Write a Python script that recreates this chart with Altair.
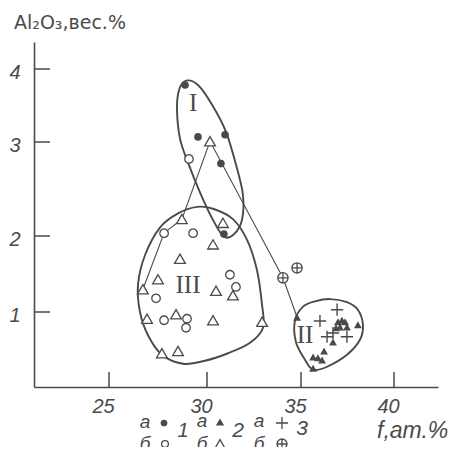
import altair as alt
import pandas as pd

# ---------------- data ----------------
# group 1: a = filled circles, b = open circles
g1a_x = [28.88, 29.54, 30.96, 30.74, 30.90]
g1a_y = [3.78, 3.07, 3.10, 2.77, 2.02]
g1b_x = [29.08, 27.81, 29.29, 27.40, 31.22, 31.54, 27.81, 28.98, 28.93]
g1b_y = [2.82, 2.03, 2.03, 1.18, 1.49, 1.33, 0.89, 0.91, 0.79]
# group 2: a = filled triangles, b = open triangles
g2a_x = [34.79, 36.99, 37.20, 37.37, 37.10, 37.47, 36.88, 38.06, 36.72,
         35.65, 35.91, 36.24, 36.13, 35.65]
g2a_y = [0.93, 0.87, 0.89, 0.87, 0.80, 0.80, 0.79, 0.83, 0.60,
         0.40, 0.39, 0.48, 0.36, 0.25]
g2b_x = [30.16, 28.72, 30.85, 30.32, 28.62, 27.50, 26.73, 30.48, 31.38,
         26.94, 28.42, 30.32, 32.93, 27.70, 28.52]
g2b_y = [3.01, 2.18, 2.14, 1.89, 1.70, 1.43, 1.30, 1.28, 1.22,
         0.91, 0.97, 0.89, 0.87, 0.45, 0.48]
# group 3: a = plus, b = crossed circle
g3a_x = [36.94, 36.02, 36.40, 36.72, 37.47]
g3a_y = [1.03, 0.88, 0.67, 0.72, 0.67]
g3b_x = [34.04, 34.79]
g3b_y = [1.45, 1.58]

# connecting line
trend_x = [26.73, 27.81, 28.72, 30.16, 34.04, 34.79]
trend_y = [1.30, 2.03, 2.18, 3.01, 1.45, 0.93]

# field outlines I, II, III
out1_x = [28.93, 29.54, 30.27, 31.01, 31.54, 31.91, 31.86, 31.44, 30.90,
          30.32, 29.69, 29.03, 28.62, 28.47, 28.57]
out1_y = [3.84, 3.78, 3.51, 3.14, 2.76, 2.44, 2.17, 2.02, 1.99,
          2.17, 2.44, 2.78, 3.05, 3.44, 3.71]
out2_x = [36.56, 37.47, 38.06, 38.33, 38.17, 37.47, 36.40, 35.65, 35.22,
          34.73, 34.68, 35.11, 35.75]
out2_y = [1.17, 1.13, 1.03, 0.83, 0.63, 0.43, 0.27, 0.23, 0.36,
          0.60, 0.89, 1.07, 1.14]
out3_x = [29.49, 30.32, 31.38, 32.13, 32.66, 32.93, 32.98, 32.29, 31.12,
          29.90, 28.78, 27.70, 26.99, 26.58, 26.48, 26.84, 27.60, 28.52]
out3_y = [2.31, 2.29, 2.18, 1.95, 1.55, 1.09, 0.79, 0.59, 0.45,
          0.35, 0.31, 0.43, 0.69, 1.00, 1.36, 1.75, 2.09, 2.24]

field_names = ["I", "II", "III"]
field_x = [29.29, 35.22, 29.03]
field_y = [3.53, 0.69, 1.36]

x_ticks = [25, 30, 35, 40]
y_ticks = [1, 2, 3, 4]

# ---------------- styling ----------------
ink = "#4a4a4a"
sans = "Liberation Sans"

xs = alt.Scale(type="linear", domain=[21.17, 25, 30, 35, 40, 42.37],
               range=[0, 75, 173, 267, 360, 404], nice=False, zero=False)
ys = alt.Scale(type="linear", domain=[0, 1, 2, 3, 4, 4.37],
               range=[345, 270, 194, 100, 27, 0], nice=False, zero=False)

xaxis = alt.Axis(values=x_ticks, title=None, ticks=False, grid=False,
                 domainColor=ink, domainWidth=1.6, labelFont=sans,
                 labelFontSize=20, labelFontStyle="italic", labelColor=ink,
                 labelPadding=9, labelOffset=-6, format="d")
yaxis = alt.Axis(values=y_ticks, title=None, ticks=False, grid=False,
                 domainColor=ink, domainWidth=1.6, labelFont=sans,
                 labelFontSize=20, labelFontStyle="italic", labelColor=ink,
                 labelPadding=14, labelOffset=3, format="d")


def X(f):
    return alt.X(f, type="quantitative", scale=xs, axis=xaxis)


def Y(f):
    return alt.Y(f, type="quantitative", scale=ys, axis=yaxis)


def pts(xv, yv):
    return pd.DataFrame({"x": xv, "y": yv})


def path(xv, yv):
    return pd.DataFrame({"x": xv, "y": yv, "o": list(range(len(xv)))})


PLUS = "M-1,0L1,0M0,-1L0,1"
OPLUS = "M-1,0A1,1,0,1,1,1,0A1,1,0,1,1,-1,0ZM-1,0L1,0M0,-1L0,1"

layers = []

# outlines
for ox, oy in [(out1_x, out1_y), (out2_x, out2_y), (out3_x, out3_y)]:
    layers.append(
        alt.Chart(path(ox, oy)).mark_line(interpolate="cardinal-closed",
                                          color=ink, strokeWidth=1.9)
        .encode(x=X("x"), y=Y("y"), order="o:Q"))

# trend line
layers.append(alt.Chart(path(trend_x, trend_y))
              .mark_line(color=ink, strokeWidth=1.1)
              .encode(x=X("x"), y=Y("y"), order="o:Q"))

# ticks (inward)
layers.append(alt.Chart(pd.DataFrame({"v": y_ticks}))
              .mark_rule(color=ink, strokeWidth=1.5)
              .encode(y=Y("v"), x=alt.value(0), x2=alt.value(16)))
layers.append(alt.Chart(pd.DataFrame({"v": x_ticks}))
              .mark_rule(color=ink, strokeWidth=1.5)
              .encode(x=X("v"), y=alt.value(345), y2=alt.value(330)))

# points
layers.append(alt.Chart(pts(g2b_x, g2b_y))
              .mark_point(shape="triangle-up", filled=True, fill="white",
                          stroke=ink, strokeWidth=1.3, size=115, opacity=1)
              .encode(x=X("x"), y=Y("y")))
layers.append(alt.Chart(pts(g1b_x, g1b_y))
              .mark_point(shape="circle", filled=True, fill="white",
                          stroke=ink, strokeWidth=1.3, size=72, opacity=1)
              .encode(x=X("x"), y=Y("y")))
layers.append(alt.Chart(pts(g1a_x, g1a_y))
              .mark_point(shape="circle", filled=True, color=ink,
                          size=58, opacity=1)
              .encode(x=X("x"), y=Y("y")))
layers.append(alt.Chart(pts(g2a_x, g2a_y))
              .mark_point(shape="triangle-up", filled=True, color=ink,
                          size=62, opacity=1)
              .encode(x=X("x"), y=Y("y")))
layers.append(alt.Chart(pts(g3a_x, g3a_y))
              .mark_point(shape=PLUS, filled=False, stroke=ink,
                          strokeWidth=1.4, size=150, opacity=1)
              .encode(x=X("x"), y=Y("y")))
layers.append(alt.Chart(pts(g3b_x, g3b_y))
              .mark_point(shape=OPLUS, filled=True, fill="white",
                          stroke=ink, strokeWidth=1.3, size=105, opacity=1)
              .encode(x=X("x"), y=Y("y")))

# field labels
layers.append(alt.Chart(pd.DataFrame({"x": field_x, "y": field_y,
                                      "t": field_names}))
              .mark_text(font="Liberation Serif", fontSize=25, color=ink,
                         align="center", baseline="middle")
              .encode(x=X("x"), y=Y("y"), text="t:N"))

one = pd.DataFrame({"a": [0]})


def txt(s, px, py, size=18, style="italic", align="center",
        baseline="middle", font=sans):
    return (alt.Chart(one)
            .mark_text(text=s, font=font, fontSize=size, fontStyle=style,
                       color=ink, align=align, baseline=baseline)
            .encode(x=alt.value(px), y=alt.value(py)))


def sym(shape, px, py, size, filled):
    if filled:
        m = alt.Chart(one).mark_point(shape=shape, filled=True, color=ink,
                                      size=size, opacity=1)
    else:
        m = alt.Chart(one).mark_point(shape=shape, filled=False, stroke=ink,
                                      strokeWidth=1.3, size=size, opacity=1)
    return m.encode(x=alt.value(px), y=alt.value(py))


# axis titles
layers.append(txt("Al₂O₃,вес.%", -20, -13, size=19, style="normal",
                  align="left", baseline="alphabetic", font="DejaVu Sans"))
layers.append(txt("f,ат.%", 343, 396, size=23, align="left",
                  baseline="alphabetic"))

# legend
layers += [
    txt("а", 111, 380, 19), txt("б", 111, 402, 19),
    sym("circle", 130, 381, 45, True), sym("circle", 131, 402, 45, False),
    txt("1", 149, 389, 20),
    txt("а", 168, 379, 19), txt("б", 168, 402, 19),
    sym("triangle-up", 186, 380, 70, True),
    sym("triangle-up", 186, 402, 100, False),
    txt("2", 204, 389, 21),
    txt("а", 225, 379, 19), txt("б", 225, 402, 19),
    sym(PLUS, 248, 381, 150, False), sym(OPLUS, 248, 402, 100, False),
    txt("3", 268, 387, 21),
]

chart = (alt.layer(*layers)
         .properties(width=404, height=345,
                     autosize=alt.AutoSizeParams(type="none"),
                     padding={"left": 26, "top": 34, "right": 10,
                              "bottom": 60},
                     background="white")
         .configure_view(stroke=None))

chart.save("out.html", embed_options={"renderer": "svg", "actions": False})
